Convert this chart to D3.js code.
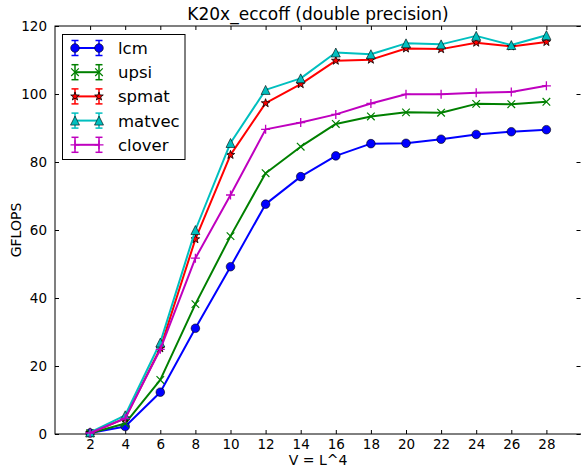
<!DOCTYPE html>
<html><head><meta charset="utf-8">
<script src="https://cdn.jsdelivr.net/npm/d3@7"></script>
<style>body{margin:0;background:#fff}svg{display:block;font-family:"DejaVu Sans",sans-serif}</style>
</head><body><svg id="c" width="581" height="467"></svg>
<script>
const xValues = [2,4,6,8,10,12,14,16,18,20,22,24,26,28];
const lcm    = [0.3, 2.2, 12.3, 31.1, 49.2, 67.6, 75.7, 81.8, 85.4, 85.5, 86.7, 88.1, 88.9, 89.5];
const upsi   = [0.2, 3.1, 15.9, 38.2, 58.2, 76.7, 84.5, 91.2, 93.4, 94.6, 94.5, 97.1, 97.0, 97.7];
const spmat  = [0.3, 4.6, 25.2, 57.3, 82.1, 97.3, 102.9, 109.8, 110.1, 113.4, 113.2, 115.1, 114.0, 115.3];
const matvec = [0.5, 5.5, 26.9, 60.0, 85.6, 101.2, 104.6, 112.2, 111.7, 114.9, 114.6, 117.1, 114.4, 117.3];
const clover = [0.3, 4.6, 24.9, 51.7, 70.3, 89.6, 91.6, 94.0, 97.2, 99.9, 99.9, 100.4, 100.6, 102.4];
const seriesNames = ["lcm","upsi","spmat","matvec","clover"];
const xTicks = [2,4,6,8,10,12,14,16,18,20,22,24,26,28];
const yTicks = [0,20,40,60,80,100,120];
const titleText = "K20x_eccoff (double precision)";
const xLabel = "V = L^4";
const yLabel = "GFLOPS";

const seriesData = [lcm, upsi, spmat, matvec, clover];
const colors = ["#0000ff","#008000","#ff0000","#00bfbf","#bf00bf"];
const markers = ["circle","x","star","triangle","plus"];

const svg = d3.select("#c");
const L = 55, R = 581.5, T = 26, B = 434;
const x = d3.scaleLinear().domain([0,30]).range([L,R]);
const y = d3.scaleLinear().domain([0,120]).range([B,T]);

svg.append("rect").attr("x",L).attr("y",T).attr("width",R-L).attr("height",B-T)
  .attr("fill","none").attr("stroke","#000").attr("stroke-width",1);

const tl = 4;
function ticks(axis, tr){
  const g = svg.append("g").attr("transform",tr).call(axis);
  g.select(".domain").remove();
  g.selectAll("line").attr("stroke","#000");
  g.selectAll("text").attr("font-size","13.5px").attr("fill","#000").attr("font-family","DejaVu Sans");
  return g;
}
ticks(d3.axisBottom(x).tickValues(xTicks).tickSizeInner(-tl).tickSizeOuter(0).tickPadding(5), `translate(0,${B})`);
ticks(d3.axisTop(x).tickValues(xTicks).tickSizeInner(-tl).tickSizeOuter(0).tickFormat(""), `translate(0,${T})`);
ticks(d3.axisLeft(y).tickValues(yTicks).tickSizeInner(-tl).tickSizeOuter(0).tickPadding(8), `translate(${L},0)`);
ticks(d3.axisRight(y).tickValues(yTicks).tickSizeInner(-tl).tickSizeOuter(0).tickFormat(""), `translate(${R-1},0)`);

svg.append("text").attr("x",(L+581)/2).attr("y",20).attr("text-anchor","middle")
  .attr("font-size","17px").text(titleText);
svg.append("text").attr("x",(L+581)/2).attr("y",465).attr("text-anchor","middle")
  .attr("font-size","14px").text(xLabel);
svg.append("text").attr("transform",`translate(21,${(T+B)/2}) rotate(-90)`).attr("text-anchor","middle")
  .attr("font-size","14px").text(yLabel);

function drawMarker(g, type, cx, cy, color){
  const s = 4.5;
  if(type==="circle"){
    g.append("circle").attr("cx",cx).attr("cy",cy).attr("r",4.3).attr("fill",color).attr("stroke","#000").attr("stroke-width",0.6);
  } else if(type==="triangle"){
    g.append("path").attr("d",`M${cx},${cy-s}L${cx-s},${cy+s}L${cx+s},${cy+s}Z`).attr("fill",color).attr("stroke","#000").attr("stroke-width",0.6);
  } else if(type==="star"){
    const pts=[];
    for(let i=0;i<10;i++){const r=i%2?s*0.4:s; const a=-Math.PI/2+i*Math.PI/5; pts.push([cx+r*Math.cos(a),cy+r*Math.sin(a)]);}
    g.append("path").attr("d","M"+pts.map(p=>p.join(",")).join("L")+"Z").attr("fill",color).attr("stroke","#000").attr("stroke-width",0.8);
  } else if(type==="x"){
    const r=3.8;
    g.append("path").attr("d",`M${cx-r},${cy-r}L${cx+r},${cy+r}M${cx-r},${cy+r}L${cx+r},${cy-r}`).attr("stroke",color).attr("stroke-width",1.2);
  } else if(type==="plus"){
    const r=4.5;
    g.append("path").attr("d",`M${cx-r},${cy}L${cx+r},${cy}M${cx},${cy-r}L${cx},${cy+r}`).attr("stroke",color).attr("stroke-width",1.3);
  }
}

const line = d3.line().x((d,i)=>x(xValues[i])).y(d=>y(d));
seriesData.forEach((vals,k)=>{
  const g = svg.append("g");
  g.append("path").datum(vals).attr("d",line).attr("fill","none").attr("stroke",colors[k]).attr("stroke-width",2).attr("stroke-linejoin","round");
  vals.forEach((v,i)=>drawMarker(g, markers[k], x(xValues[i]), y(v), colors[k]));
});

const lg = svg.append("g");
lg.append("rect").attr("x",62.5).attr("y",34.5).attr("width",122.5).attr("height",125).attr("fill","#fff").attr("stroke","#000").attr("stroke-width",1);
seriesNames.forEach((name,k)=>{
  const cy = 48 + k*24.2;
  const x1=75, x2=99;
  lg.append("line").attr("x1",x1).attr("x2",x2).attr("y1",cy).attr("y2",cy).attr("stroke",colors[k]).attr("stroke-width",2);
  [x1,x2].forEach(px=>{
    lg.append("line").attr("x1",px).attr("x2",px).attr("y1",cy-7.5).attr("y2",cy+7.5).attr("stroke",colors[k]).attr("stroke-width",1.5);
    lg.append("line").attr("x1",px-3.5).attr("x2",px+3.5).attr("y1",cy-7.5).attr("y2",cy-7.5).attr("stroke",colors[k]).attr("stroke-width",1.5);
    lg.append("line").attr("x1",px-3.5).attr("x2",px+3.5).attr("y1",cy+7.5).attr("y2",cy+7.5).attr("stroke",colors[k]).attr("stroke-width",1.5);
    drawMarker(lg, markers[k], px, cy, colors[k]);
  });
  lg.append("text").attr("x",118).attr("y",cy).attr("dy","0.36em").attr("font-size","16.5px").text(name);
});
</script></body></html>
